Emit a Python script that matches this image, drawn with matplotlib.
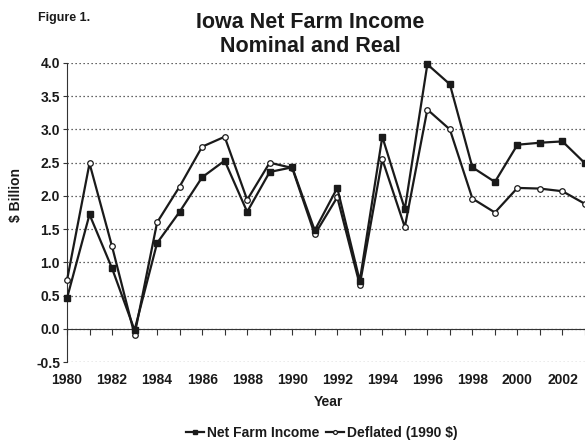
import numpy as np
import matplotlib
matplotlib.use("Agg")
import matplotlib.pyplot as plt

plt.rcParams['font.family'] = ['Liberation Sans', 'DejaVu Sans']
plt.rcParams['font.weight'] = 'bold'

# ----- data ($ billion) -----
years = list(range(1980, 2004))
net_income = [0.46, 1.72, 0.91, -0.02, 1.29, 1.76, 2.28, 2.53, 1.76, 2.36,
              2.43, 1.48, 2.12, 0.72, 2.89, 1.80, 3.98, 3.68, 2.43, 2.21,
              2.77, 2.80, 2.82, 2.49]
deflated = [0.73, 2.49, 1.24, -0.09, 1.60, 2.14, 2.74, 2.89, 1.94, 2.50,
            2.42, 1.42, 1.98, 0.66, 2.55, 1.53, 3.30, 3.00, 1.96, 1.75,
            2.12, 2.11, 2.07, 1.88]
label_years = list(range(1980, 2003, 2))
y_ticks = np.arange(-0.5, 4.01, 0.5)
# ----------------------------

INK = '#1a1a1a'
W, H = 585, 441
fig = plt.figure(figsize=(W / 100, H / 100), dpi=100)
ax = fig.add_axes([67 / W, (H - 362) / H, (585 - 67) / W, (362 - 63) / H])

ax.plot(years, net_income, color=INK, lw=1.6, marker='s', ms=4.4,
        mfc=INK, mec=INK, label='Net Farm Income', zorder=4, clip_on=False)
ax.plot(years, deflated, color=INK, lw=1.6, marker='o', ms=4.0,
        mfc='white', mec=INK, mew=0.9, label='Deflated (1990 $)', zorder=3,
        clip_on=False)

ax.set_xlim(1980, 2002.81)
ax.set_ylim(-0.5, 4.0)
ax.set_yticks(y_ticks)
ax.set_yticklabels([f"{v:.1f}" for v in y_ticks], fontsize=10, fontweight='bold',
                   color=INK)
ax.yaxis.grid(True, linestyle=(0, (1, 2.2)), color='#333333', lw=0.9)
ax.set_axisbelow(True)

for s in ('top', 'right'):
    ax.spines[s].set_visible(False)
ax.spines['left'].set_color('#333333')
ax.spines['bottom'].set_position(('data', 0))
ax.spines['bottom'].set_color('#333333')
ax.tick_params(axis='y', length=3, width=0.8, color='#333333', pad=2)

# year ticks on the zero line, labels along the bottom
ax.set_xticks(years)
ax.tick_params(axis='x', length=4, width=0.8, color='#333333', labelbottom=False)
sec = ax.secondary_xaxis(0)
sec.set_xticks(label_years)
sec.set_xticklabels([str(y) for y in label_years], fontsize=10, fontweight='bold',
                    color=INK)
sec.tick_params(length=0, pad=8)
sec.spines['bottom'].set_visible(False)

fig.text(310 / W, 1 - 22 / H, "Iowa Net Farm Income", ha='center', va='center',
         fontsize=15.5, fontweight='bold', color=INK)
fig.text(310 / W, 1 - 46.5 / H, "Nominal and Real", ha='center', va='center',
         fontsize=15.5, fontweight='bold', color=INK)
fig.text(38 / W, 1 - 18 / H, "Figure 1.", ha='left', va='center',
         fontsize=9, fontweight='bold', color=INK)
fig.text(16 / W, 1 - 195 / H, "$ Billion", ha='center', va='center', rotation=90,
         fontsize=10, fontweight='bold', color=INK)
fig.text(328 / W, 1 - 402 / H, "Year", ha='center', va='center',
         fontsize=10, fontweight='bold', color=INK)

leg = fig.legend(loc='center', bbox_to_anchor=(322 / W, 1 - 433 / H), ncol=2,
                 frameon=False, fontsize=10, handlelength=1.3, handletextpad=0.2,
                 columnspacing=0.5, borderpad=0, markerscale=0.7)
for t in leg.get_texts():
    t.set_fontweight('bold')
    t.set_color(INK)

fig.savefig("out.png", dpi=100)
